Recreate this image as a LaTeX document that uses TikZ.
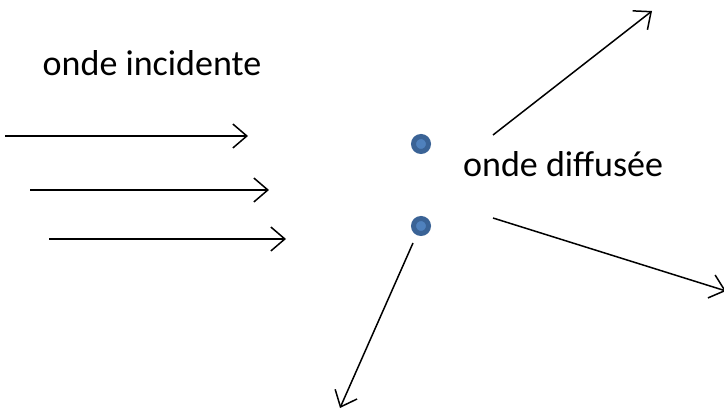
\documentclass[tikz,border=0pt]{standalone}
\usepackage{fontspec}
\setmainfont{Carlito}
\usetikzlibrary{arrows.meta}
\definecolor{dot_fill}{RGB}{79, 129, 189}
\definecolor{dot_edge}{RGB}{58, 99, 150}
\tikzstyle{dot}=[circle,fill=dot_fill,draw=dot_edge,line width=5pt,
  inner sep=0pt,minimum size=15pt]
\tikzstyle{lbl}=[inner sep=0pt,font=\fontsize{36}{40}\selectfont]
\tikzstyle{ray}=[line width=1.5pt,-{Straight Barb[length=14pt,width=24pt,line width=1.5pt]}]
\tikzstyle{none}=[inner sep=0pt]

\begin{document}
\begin{tikzpicture}[x=1pt, y=1pt]
            \useasboundingbox (0, 0) rectangle (724, 410);
            \node [style=dot] (0) at (421, 266) {};
            \node [style=dot] (1) at (421, 184) {};
            \node [style=lbl, anchor=base] (2) at (152, 334) {onde incidente};
            \node [style=lbl, anchor=base west] (3) at (463, 233) {onde diffusée};
            \node [style=none] (4) at (5, 274) {};
            \node [style=none] (5) at (248, 274) {};
            \node [style=none] (6) at (30, 220) {};
            \node [style=none] (7) at (269, 220) {};
            \node [style=none] (8) at (49, 171) {};
            \node [style=none] (9) at (286, 171) {};
            \node [style=none] (10) at (493, 275) {};
            \node [style=none] (11) at (652, 399) {};
            \node [style=none] (12) at (493, 192) {};
            \node [style=none] (13) at (726, 119) {};
            \node [style=none] (14) at (413, 167) {};
            \node [style=none] (15) at (340, 2) {};
            \draw [style=ray] (4.center) to (5.center);
            \draw [style=ray] (6.center) to (7.center);
            \draw [style=ray] (8.center) to (9.center);
            \draw [style=ray] (10.center) to (11.center);
            \draw [style=ray] (12.center) to (13.center);
            \draw [style=ray] (14.center) to (15.center);
    \end{tikzpicture}
\end{document}
